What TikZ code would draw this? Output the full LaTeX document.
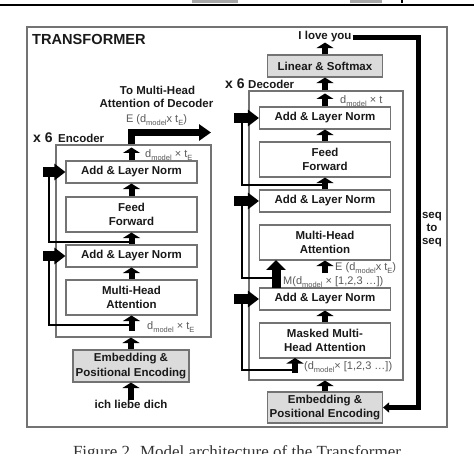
\documentclass[tikz,border=0pt]{standalone}
\usepackage{fontspec}
\setmainfont{Liberation Sans}
\newfontfamily\serifcap{Liberation Serif}
\usetikzlibrary{arrows.meta}
\newcommand{\lowsub}[1]{\raisebox{-2.2pt}{\fontsize{7.5}{8}\selectfont #1}}
\definecolor{boxline}{gray}{0.45}
\definecolor{txtc}{gray}{0.1}
\definecolor{lblgray}{gray}{0.35}
\definecolor{fillg}{gray}{0.86}
\begin{document}
\begin{tikzpicture}[x=1pt,y=-1pt,
 box/.style={draw=boxline, line width=1.1pt, inner sep=0pt, align=center, font=\fontsize{11.5}{14.5}\selectfont\bfseries, text=txtc},
 gbox/.style={box, fill=fillg},
 frame/.style={draw=boxline, line width=1.1pt, inner sep=0pt},
 upblk/.style={line width=6pt, draw=black, -{Triangle[width=17pt,length=5.5pt]}},
 bigblk/.style={line width=9pt, draw=black, -{Triangle[width=19pt,length=10pt]}},
 rblk/.style={line width=10pt, draw=black, -{Triangle[width=16pt,length=11pt]}},
 resline/.style={line width=1.4pt, draw=black},
 lbltxt/.style={text=lblgray, font=\fontsize{11}{13}\selectfont, inner sep=0pt},
 btxt/.style={text=txtc, font=\fontsize{11.5}{13}\selectfont\bfseries, inner sep=0pt},
 bigtxt/.style={text=txtc, font=\fontsize{14}{16}\selectfont\bfseries, inner sep=0pt},
]
\useasboundingbox (0,0) rectangle (474,454);
\clip (0,0) rectangle (474,454);
% remnants of the page above
\fill[gray!70] (192,-1) rectangle (238,3);
\fill[gray!70] (350,-1) rectangle (382,3);
\fill[black] (401,-1) rectangle (403,3);
\fill[black] (0,4.5) rectangle (474,6.5);

% outer frame
\node[frame, minimum width=420pt, minimum height=400pt] (outer) at (237,227) {};
\node[text=txtc, font=\fontsize{14.6}{16}\selectfont\bfseries, inner sep=0pt, anchor=base west] (title) at (32,45) {TRANSFORMER};

% ---------------- encoder
\node[bigtxt, anchor=base west] (ex6) at (33,143) {x 6};
\node[btxt, anchor=base west] (enclab) at (58,143) {Encoder};
\node[frame, minimum width=155pt, minimum height=192pt] (eBox) at (133.5,241) {};
\node[box, minimum width=131pt, minimum height=22pt] (eAN1) at (131.5,172) {Add \& Layer Norm};
\node[box, minimum width=131pt, minimum height=35pt] (eFF) at (131.5,214.5) {Feed\\Forward};
\node[box, minimum width=131pt, minimum height=22pt] (eAN2) at (131.5,256) {Add \& Layer Norm};
\node[box, minimum width=131pt, minimum height=35pt] (eMHA) at (131.5,297.5) {Multi-Head\\Attention};
\node[gbox, minimum width=116pt, minimum height=32pt] (eEmb) at (131,366) {Embedding \&\\Positional Encoding};
\node[btxt, anchor=base] (ich) at (131,408.5) {ich liebe dich};

\node[btxt, anchor=base] (toA) at (157.5,95) {To Multi-Head};
\node[btxt, anchor=base] (toB) at (156.5,108) {Attention of Decoder};
\node[lbltxt, anchor=base] (eEl) at (156.5,123) {E (d\lowsub{model}x t\lowsub{E})};
\node[lbltxt, anchor=base west] (eTopl) at (145,158) {d\lowsub{model} × t\lowsub{E}};
\node[lbltxt, anchor=base west] (eBotl) at (147,330) {d\lowsub{model} × t\lowsub{E}};

\coordinate (eIn) at (131.5,331);
\coordinate (eR1) at (131.5,325);
\coordinate (eV1) at (49,256);
\coordinate (eB1) at (43,256);
\coordinate (eR2) at (131.5,242);
\coordinate (eV2) at (49,172);
\coordinate (eB2) at (43,172);
\coordinate (eTopHead) at (131.5,147.5);
\coordinate (eTip) at (211,132.5);

\draw[upblk] (ich.north) -- (ich.north |- eEmb.south);
\draw[upblk] (eEmb.north) -- (eEmb.north |- eBox.south);
\draw[upblk] (eIn) -- (eMHA.south);
\draw[upblk] (eMHA.north) -- (eAN2.south);
\draw[upblk] (eAN2.north) -- (eFF.south);
\draw[upblk] (eFF.north) -- (eAN1.south);
\draw[upblk] (eAN1.north) -- (eTopHead);
\draw[line width=7pt, line join=miter, draw=black, -{Triangle[width=16pt,length=12pt]}] (eAN1.north |- eBox.north) |- (eTip);
\draw[resline] (eR1) -| (eV1);
\draw[rblk] (eB1) -- (eAN2.west);
\draw[resline] (eR2) -| (eV2);
\draw[rblk] (eB2) -- (eAN1.west);

% ---------------- decoder
\node[btxt, anchor=base] (love) at (325,40) {I love you};
\node[gbox, minimum width=115pt, minimum height=22pt] (dLin) at (325,66) {Linear \& Softmax};
\node[bigtxt, anchor=base west] (dx6) at (225,89) {x 6};
\node[btxt, anchor=base west] (declab) at (248,89) {Decoder};
\node[frame, minimum width=154pt, minimum height=289pt] (dBox) at (326,235.5) {};
\node[box, minimum width=131pt, minimum height=22pt] (dAN3) at (325,118) {Add \& Layer Norm};
\node[box, minimum width=131pt, minimum height=35pt] (dFF) at (325,159.5) {Feed\\Forward};
\node[box, minimum width=131pt, minimum height=22pt] (dAN2) at (325,201) {Add \& Layer Norm};
\node[box, minimum width=131pt, minimum height=35pt] (dMHA) at (325,242.5) {Multi-Head\\Attention};
\node[box, minimum width=131pt, minimum height=22pt] (dAN1) at (325,299) {Add \& Layer Norm};
\node[box, minimum width=131pt, minimum height=35pt] (dMMHA) at (325,340.5) {Masked Multi-\\Head Attention};
\node[gbox, minimum width=115pt, minimum height=31pt] (dEmb) at (325,407.5) {Embedding \&\\Positional Encoding};

\node[lbltxt, anchor=base west] (dTopl) at (340,104) {d\lowsub{model} × t};
\node[lbltxt, anchor=base west] (dEl) at (335,271) {E (d\lowsub{model}x t\lowsub{E})};
\node[lbltxt, anchor=base west] (dMl) at (283,285) {M(d\lowsub{model} × [1,2,3 …])};
\node[lbltxt, anchor=base west] (dXl) at (304,370) {(d\lowsub{model}× [1,2,3 …])};

\node[btxt, anchor=base] (seqA) at (432,219) {seq};
\node[btxt, anchor=base] (seqB) at (432,232) {to};
\node[btxt, anchor=base] (seqC) at (432,245) {seq};

\coordinate (dTopHead) at (325,93.5);
\coordinate (dR3) at (325,185);
\coordinate (dV3) at (242,118);
\coordinate (dB3) at (234,118);
\coordinate (mTail) at (276,288);
\coordinate (mHead) at (276,260);
\coordinate (dR2) at (276,278);
\coordinate (dV2) at (242,201);
\coordinate (dB2) at (234,201);
\coordinate (eStub) at (325,273);
\coordinate (xTail) at (295,373);
\coordinate (xHead) at (295,358);
\coordinate (dR1) at (295,370);
\coordinate (dV1) at (242,299);
\coordinate (dB1) at (234,299);
\coordinate (sR) at (417.5,37);

\draw[upblk] (dEmb.north) -- (dEmb.north |- dBox.south);
\draw[upblk] (xTail) -- (xHead);
\draw[upblk] (dMMHA.north) -- (dAN1.south);
\draw[bigblk] (mTail) -- (mHead);
\draw[upblk] (eStub) -- (dMHA.south);
\draw[upblk] (dAN2.north) -- (dFF.south);
\draw[upblk] (dFF.north) -- (dAN3.south);
\draw[upblk] (dAN3.north) -- (dTopHead);
\draw[upblk] (dBox.north -| dLin.south) -- (dLin.south);
\draw[upblk] (dLin.north) -- (love.south);
\draw[resline] (dR1) -| (dV1);
\draw[rblk] (dB1) -- (dAN1.west);
\draw[resline] (dR2) -| (dV2);
\draw[rblk] (dB2) -- (dAN2.west);
\draw[resline] (dR3) -| (dV3);
\draw[rblk] (dB3) -- (dAN3.west);
\draw[line width=5pt, line join=miter, draw=black, -{Triangle[width=10pt,length=6pt]}] ([xshift=1pt]love.east) -- ([xshift=1pt]love.east -| sR) |- (dEmb.east);

% caption (cut by the page edge)
\node[font=\serifcap\fontsize{17}{20}\selectfont, anchor=base, text=black!80, inner sep=0pt] (cap) at (237,457) {Figure 2. Model architecture of the Transformer};
\end{tikzpicture}
\end{document}
